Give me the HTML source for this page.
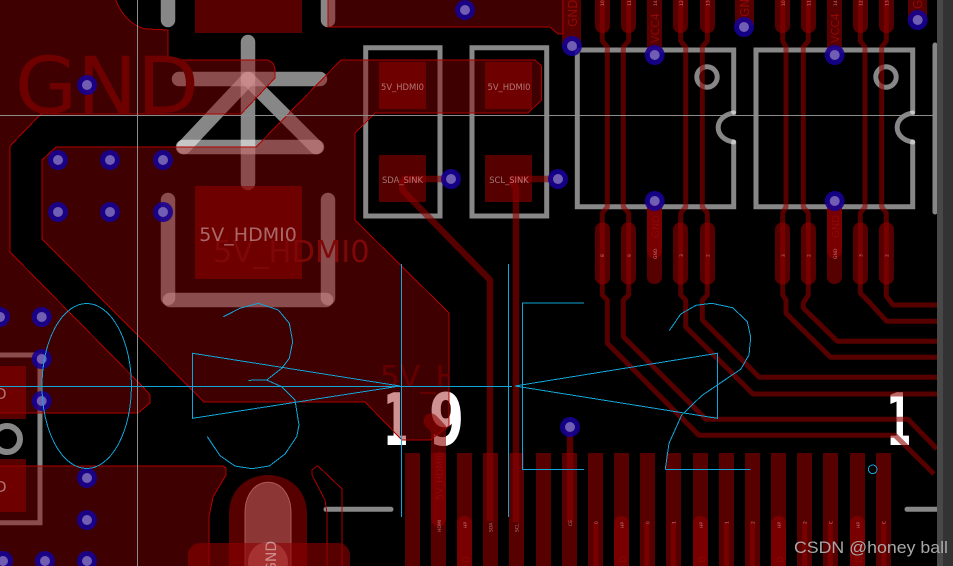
<!DOCTYPE html>
<html><head><meta charset="utf-8"><style>
html,body{margin:0;padding:0;background:#000;width:953px;height:566px;overflow:hidden}
svg{display:block;font-family:"DejaVu Sans","Liberation Sans",sans-serif}
.s{fill:none;stroke:rgba(255,255,255,.53);stroke-width:14.5;stroke-linecap:round}
.t{fill:none;stroke:rgba(255,255,255,.53);stroke-width:5;stroke-linecap:round;stroke-linejoin:miter}
.p{fill:rgba(144,0,0,.43);stroke:#b00000;stroke-width:1;shape-rendering:crispEdges}
.c{fill:rgba(144,0,0,.6)}
.w{fill:none;stroke:rgba(144,0,0,.6);stroke-width:5;stroke-linejoin:bevel}
.w2{fill:none;stroke:rgba(144,0,0,.6);stroke-width:6.5;stroke-linejoin:bevel}
.v circle:nth-child(odd){fill:rgba(22,0,150,.88)}
.v circle:nth-child(even){fill:#7a68b8;fill-opacity:.9}
.y{fill:none;stroke:#12a5d8;stroke-width:1;shape-rendering:crispEdges}
.l{fill:rgba(255,255,255,.45)}
.r{fill:#900808}
.m{fill:rgba(255,210,210,.55);font-size:4.5px}
</style></head><body>
<svg width="953" height="566" viewBox="0 0 953 566" xmlns="http://www.w3.org/2000/svg">
<defs><clipPath id="k"><rect x="370" y="350" width="79" height="60"/></clipPath></defs>
<rect width="953" height="566" fill="#000"/>

<!-- silkscreen layer -->
<g>
<text transform="translate(383.4 445) scale(.5 1)" font-family="DejaVu Sans" font-weight="700" font-size="72" fill="#fff">1</text>
<text transform="translate(429 445) scale(.7 1)" font-family="DejaVu Sans" font-weight="700" font-size="72" fill="#fff">9</text>
<text transform="translate(886.4 445) scale(.5 1)" font-family="DejaVu Sans" font-weight="700" font-size="72" fill="#fff">1</text>
<path class="s" d="M168 -5V20M328 -5V20"/>
<path class="s" d="M179 79H320"/>
<path class="s" d="M248 42V183"/>
<path class="s" d="M248 79L184 147"/>
<path class="s" d="M248 79L316 147"/>
<path class="s" d="M183 147H317"/>
<path class="s" d="M168 200V298"/>
<path class="s" d="M328 200V298"/>
<path class="s" d="M170 300H326"/>
<path class="t" d="M365.700 47.700H440V216H365.700Z"/>
<path class="t" d="M472 47.700H546.700V216H472Z"/>
<path class="t" d="M733.700 112V50H577.300V206.700H733.700V142"/>
<path class="t" d="M733.700 113C713 116 713 139 733.700 142"/>
<path class="t" d="M912.700 112V50H756V206.700H912.700V142"/>
<path class="t" d="M912.700 113C892 116 892 139 912.700 142"/>
<circle class="t" cx="707" cy="77" r="10.200"/>
<circle class="t" cx="886" cy="77" r="10.200"/>
<path class="t" d="M935 45V212"/>
<path class="t" d="M0 355H40V522.700H0"/>
<circle cx="7" cy="439" r="13" fill="none" stroke="rgba(255,255,255,.53)" stroke-width="6"/>
<path class="t" d="M326 509.300H391" stroke-width="6.500"/>
<path class="t" d="M907 509.300H937" stroke-width="6.500"/>
<path d="M245 566V513C245 472 291 472 291 513V566" fill="rgba(255,255,255,.53)" stroke="#ddd" stroke-width="1"/>
</g>

<!-- copper pours -->
<path class="p" d="M-2 -2H115C122 18 136 28 147 29L168 30V60H268Q275 63 275 70V78L241 114H41L10 146V252L143 387L150 395V403L138 413H-2Z"/>
<path class="p" d="M42 160L56 147H256L341 60H535L541.700 66V100L528 113H375L355 133V220L449 313V426L430 440H402L365 402H204L42 239Z"/>
<path class="p" d="M-2 466H223L226 468V475L213 497L209 517V568H-2Z"/>
<path class="p" d="M328 -2V27H550L558 34H563V-2Z"/>
<path d="M317 466L312 470V475L325 500L327 513V566M342 566V489L318 466H317" fill="none" stroke="#b00000" shape-rendering="crispEdges"/>

<!-- copper pads -->
<g>
<rect class="c" x="195" y="-2" width="107" height="35"/>
<rect class="c" x="195" y="186" width="107" height="93"/>
<rect class="c" x="379" y="62" width="47" height="47"/>
<rect class="c" x="485" y="62" width="47" height="47"/>
<rect class="c" x="379" y="155" width="47" height="47"/>
<rect class="c" x="485" y="155" width="47" height="47"/>
<rect class="c" x="0" y="366" width="26" height="53"/>
<rect class="c" x="0" y="459" width="26" height="53"/>
<rect class="c" x="562" y="-2" width="19" height="47"/>
<rect class="c" x="735" y="-2" width="19" height="28"/>
<rect class="c" x="908" y="-2" width="19" height="22"/>
<rect class="c" x="647" y="-10" width="15" height="62"/>
<rect class="c" x="827" y="-10" width="15" height="62"/>
<rect class="c" x="647" y="201" width="15" height="83" rx="7"/>
<rect class="c" x="647" y="201" width="15" height="57" rx="7"/>
<rect class="c" x="827" y="201" width="15" height="83" rx="7"/>
<rect class="c" x="827" y="201" width="15" height="57" rx="7"/>
<!-- upper ovals -->
<rect class="c" x="595" y="-10" width="15" height="43" rx="7"/>
<rect class="c" x="621" y="-10" width="15" height="43" rx="7"/>
<rect class="c" x="673" y="-10" width="15" height="43" rx="7"/>
<rect class="c" x="700" y="-10" width="15" height="43" rx="7"/>
<rect class="c" x="775" y="-10" width="15" height="43" rx="7"/>
<rect class="c" x="801" y="-10" width="15" height="43" rx="7"/>
<rect class="c" x="853" y="-10" width="15" height="43" rx="7"/>
<rect class="c" x="879" y="-10" width="15" height="43" rx="7"/>
<!-- lower ovals -->
<rect class="c" x="595" y="222.500" width="15" height="62" rx="7"/>
<rect class="c" x="621" y="222.500" width="15" height="62" rx="7"/>
<rect class="c" x="673" y="222.500" width="15" height="62" rx="7"/>
<rect class="c" x="700" y="222.500" width="15" height="62" rx="7"/>
<rect class="c" x="775" y="222.500" width="15" height="62" rx="7"/>
<rect class="c" x="801" y="222.500" width="15" height="62" rx="7"/>
<rect class="c" x="853" y="222.500" width="15" height="62" rx="7"/>
<rect class="c" x="879" y="222.500" width="15" height="62" rx="7"/>
<!-- connector fingers -->
<path class="c" d="M405 453h15v113h-15zM431 453h15v113h-15zM457 453h15v113h-15zM483 453h15v113h-15zM509 453h15v113h-15zM536 453h15v113h-15zM562 453h15v113h-15zM588 453h15v113h-15zM614 453h15v113h-15zM640 453h15v113h-15zM666 453h15v113h-15zM693 453h15v113h-15zM719 453h15v113h-15zM745 453h15v113h-15zM771 453h15v113h-15zM797 453h15v113h-15zM823 453h15v113h-15zM850 453h15v113h-15zM876 453h15v113h-15z"/>
<rect class="c" x="457" y="516" width="15" height="60" rx="7"/>
<rect class="c" x="614" y="516" width="15" height="60" rx="7"/>
<rect class="c" x="693" y="516" width="15" height="60" rx="7"/>
<rect class="c" x="771" y="516" width="15" height="60" rx="7"/>
<rect class="c" x="850" y="516" width="15" height="60" rx="7"/>
<path class="c" d="M593.300 522h5v44h-5zM644.300 522h5v44h-5zM670.800 522h5v44h-5zM723.800 522h5v44h-5zM749.800 522h5v44h-5zM802.200 522h5v44h-5zM827.800 522h5v44h-5zM881.200 522h5v44h-5z"/>
<!-- bottom GND pad -->
<path class="c" d="M229 566V514C229 462 307 462 307 514V566Z"/>
<rect class="c" x="188" y="543" width="162" height="40" rx="12"/>
<circle cx="268" cy="562" r="20" fill="rgba(255,150,150,.22)"/>
</g>

<!-- traces -->
<g>
<polyline class="w" points="602.300,0 602.300,41 607.300,47 607.300,207 602.300,213 602.300,295 607.300,300 607.300,343.300 699,435.300 895,435.300 934,474"/>
<polyline class="w" points="628.700,0 628.700,41 623.300,47 623.300,207 628.700,213 628.700,295 623.300,300 623.300,336.700 706,419.300 908,419.300 937,449"/>
<polyline class="w" points="680.700,0 680.700,41 685.700,47 685.700,207 680.700,213 680.700,295 685.700,300 685.700,327 753,394 937,394"/>
<polyline class="w" points="707.300,0 707.300,41 702.300,47 702.300,207 707.300,213 707.300,295 702.300,300 702.300,320 759.300,377.300 937,377.300"/>
<polyline class="w" points="782.700,0 782.700,41 786,47 786,207 782.700,213 782.700,295 786,300 786,313.300 830.700,357.300 937,357.300"/>
<polyline class="w" points="808.300,0 808.300,41 803.300,47 803.300,207 808.300,213 808.300,295 803.300,303 803.300,308 837.300,341.300 937,341.300"/>
<polyline class="w" points="860.300,0 860.300,41 865,47 865,207 860.300,213 860.300,293 870,303 886.700,321.300 937,321.300"/>
<polyline class="w" points="886.300,0 886.300,41 881.700,47 881.700,207 886.300,213 886.300,296 893,305 937,305"/>
<polyline class="w2" points="402.300,179 402.300,190 490,280 490,521"/>
<polyline class="w2" points="402,179 451,179"/>
<polyline class="w2" points="510,179 558,179"/>
<polyline class="w2" points="510,181 516,187 516,522"/>
<polyline class="w2" points="570,427 570,522"/>
<path d="M431 421L438.500 429V519" fill="none" stroke="rgba(144,0,0,.6)" stroke-width="15" stroke-linecap="round"/>
</g>

<!-- large red texts -->
<text x="15" y="113" font-size="78" fill="#6e0000" textLength="184" lengthAdjust="spacingAndGlyphs">GND</text>
<text x="213" y="262" font-size="30.500" fill="#7e0808">5V_HDMI0</text>
<text x="380" y="387" font-size="30.500" fill="#660000" clip-path="url(#k)">5V_H</text>

<!-- vias -->
<g class="v">
<circle cx="87" cy="85" r="10"/><circle cx="87" cy="85" r="5"/>
<circle cx="58" cy="160" r="10"/><circle cx="58" cy="160" r="5"/>
<circle cx="110" cy="160" r="10"/><circle cx="110" cy="160" r="5"/>
<circle cx="163" cy="160" r="10"/><circle cx="163" cy="160" r="5"/>
<circle cx="58" cy="212" r="10"/><circle cx="58" cy="212" r="5"/>
<circle cx="110" cy="212" r="10"/><circle cx="110" cy="212" r="5"/>
<circle cx="163" cy="212" r="10"/><circle cx="163" cy="212" r="5"/>
<circle cx="465" cy="10" r="10"/><circle cx="465" cy="10" r="5"/>
<circle cx="572" cy="46" r="10"/><circle cx="572" cy="46" r="5"/>
<circle cx="451" cy="179" r="10"/><circle cx="451" cy="179" r="5"/>
<circle cx="558" cy="179" r="10"/><circle cx="558" cy="179" r="5"/>
<circle cx="654.700" cy="55" r="10"/><circle cx="654.700" cy="55" r="5"/>
<circle cx="744" cy="27" r="10"/><circle cx="744" cy="27" r="5"/>
<circle cx="917.700" cy="20" r="10"/><circle cx="917.700" cy="20" r="5"/>
<circle cx="834.700" cy="55" r="10"/><circle cx="834.700" cy="55" r="5"/>
<circle cx="654.700" cy="201" r="10"/><circle cx="654.700" cy="201" r="5"/>
<circle cx="834.700" cy="201" r="10"/><circle cx="834.700" cy="201" r="5"/>
<circle cx="570" cy="427" r="10"/><circle cx="570" cy="427" r="5"/>
<circle cx="41.700" cy="317" r="10"/><circle cx="41.700" cy="317" r="5"/>
<circle cx="41.700" cy="359" r="10"/><circle cx="41.700" cy="359" r="5"/>
<circle cx="41.700" cy="401" r="10"/><circle cx="41.700" cy="401" r="5"/>
<circle cx="0" cy="317" r="10"/><circle cx="0" cy="317" r="5"/>
<circle cx="87" cy="478" r="10"/><circle cx="87" cy="478" r="5"/>
<circle cx="87" cy="520" r="10"/><circle cx="87" cy="520" r="5"/>
<circle cx="87" cy="561" r="10"/><circle cx="87" cy="561" r="5"/>
<circle cx="45" cy="561" r="10"/><circle cx="45" cy="561" r="5"/>
<circle cx="3" cy="561" r="10"/><circle cx="3" cy="561" r="5"/>
</g>

<!-- pad labels -->
<text class="l" x="248" y="241" font-size="19" text-anchor="middle" fill-opacity=".9">5V_HDMI0</text>
<text class="l" x="402.500" y="90" font-size="8.400" text-anchor="middle">5V_HDMI0</text>
<text class="l" x="509" y="90" font-size="8.400" text-anchor="middle">5V_HDMI0</text>
<text class="l" x="402.500" y="183" font-size="8.400" text-anchor="middle">SDA_SINK</text>
<text class="l" x="509" y="183" font-size="8.400" text-anchor="middle">SCL_SINK</text>
<text class="l" x="-5" y="399" font-size="15">D</text>
<text class="l" x="-5" y="492" font-size="15">D</text>

<!-- rotated net names -->
<text transform="translate(276 573) rotate(-90)" font-size="14" fill="rgba(255,255,255,.45)">GND</text>
<text class="r" transform="translate(577 27) rotate(-90)" font-size="12">GND</text>
<text class="r" transform="translate(659 43) rotate(-90)" font-size="11">VCC4</text>
<text class="r" transform="translate(839 43) rotate(-90)" font-size="11">VCC4</text>
<text class="r" transform="translate(659 238) rotate(-90)" font-size="10">GND</text>
<text class="r" transform="translate(839 238) rotate(-90)" font-size="10">GND</text>
<text class="r" transform="translate(749 17) rotate(-90)" font-size="12">GN</text>
<text class="r" transform="translate(922 9) rotate(-90)" font-size="12">G</text>
<text class="r" transform="translate(443 500) rotate(-90)" font-size="9.400">5V_HDMI0</text>
<text class="r" transform="translate(469 563) rotate(-90)" font-size="9">D</text>
<text class="r" transform="translate(626 563) rotate(-90)" font-size="9">D</text>
<text class="r" transform="translate(705 563) rotate(-90)" font-size="9">D</text>
<text class="r" transform="translate(783 563) rotate(-90)" font-size="9">D</text>
<text class="r" transform="translate(862 563) rotate(-90)" font-size="9">D</text>

<!-- tiny pin labels -->
<g class="m">
<text transform="translate(604 6) rotate(-90)">10</text><text transform="translate(631 6) rotate(-90)">11</text>
<text transform="translate(683 6) rotate(-90)">12</text><text transform="translate(709.500 6) rotate(-90)">13</text>
<text transform="translate(785 6) rotate(-90)">10</text><text transform="translate(810.500 6) rotate(-90)">11</text>
<text transform="translate(862.500 6) rotate(-90)">12</text><text transform="translate(888.500 6) rotate(-90)">13</text>
<text transform="translate(657 6) rotate(-90)">14</text><text transform="translate(837 6) rotate(-90)">14</text>
<text transform="translate(604 257) rotate(-90)">8</text><text transform="translate(631 257) rotate(-90)">9</text>
<text transform="translate(657 259) rotate(-90)">GND</text><text transform="translate(683 257) rotate(-90)">3</text>
<text transform="translate(709.500 257) rotate(-90)">2</text><text transform="translate(785 257) rotate(-90)">3</text>
<text transform="translate(810.500 257) rotate(-90)">2</text><text transform="translate(837 259) rotate(-90)">GND</text>
<text transform="translate(862.500 257) rotate(-90)">3</text><text transform="translate(888.500 257) rotate(-90)">2</text>
<text transform="translate(441 532) rotate(-90)">HDMI</text>
<text transform="translate(467 528) rotate(-90)">HP</text>
<text transform="translate(492.500 532) rotate(-90)">SDA</text>
<text transform="translate(518.500 532) rotate(-90)">SCL</text>
<text transform="translate(572 526) rotate(-90)">CE</text>
<text transform="translate(598 524) rotate(-90)">0</text>
<text transform="translate(624 528) rotate(-90)">HP</text>
<text transform="translate(649.500 524) rotate(-90)">0</text>
<text transform="translate(675.500 524) rotate(-90)">1</text>
<text transform="translate(703 528) rotate(-90)">HP</text>
<text transform="translate(728.500 524) rotate(-90)">1</text>
<text transform="translate(754.500 524) rotate(-90)">2</text>
<text transform="translate(781 528) rotate(-90)">HP</text>
<text transform="translate(806.500 524) rotate(-90)">2</text>
<text transform="translate(832.500 524) rotate(-90)">C</text>
<text transform="translate(860 528) rotate(-90)">HP</text>
<text transform="translate(885.500 524) rotate(-90)">C</text>
</g>

<!-- cursor crosshair -->
<path d="M0 115.500H934M137.500 0V566" stroke="#8c8c8c" stroke-width="1" fill="none"/>

<!-- ratsnest / drawing outlines -->
<g class="y">
<path d="M0 386.500H512"/>
<path d="M401.500 264V517M508.500 264V517"/>
<path d="M192.700 353.300V418.300L400 386L192.700 353.300Z"/>
<path d="M515 386L717.300 353.300V418.300Z"/>
<path d="M584 303H522.300V469.300H584"/>
<path d="M665.300 469.300H750.700"/>
<path d="M669.300 330.700L680.700 314L696 305.300L711.700 303.300L732.700 307.700L747.300 321.700L750.700 337.300L749 355L740.700 369.300L717.300 385L701.700 395.700L681.700 415L669 443.300L665.300 469.300"/>
<path d="M223.300 316.700L240 308.300L258.300 303.300L278.300 310L289.300 323.300L292.700 341.700L289.300 358.300L281.700 368.300L266.700 380L248.300 380.300M266.700 380L281.700 386.700L295 400L299 425L296.700 436.700L285 454L269.300 466L251.700 468.700L235 466L220 455.700L207.300 436.700"/>
<ellipse cx="86.700" cy="386" rx="44.700" ry="82.500"/>
<circle cx="872.700" cy="469.300" r="4.300"/>
</g>

<!-- scrollbar -->
<rect x="937" y="0" width="6" height="566" fill="#484848"/>
<rect x="943" y="0" width="10" height="566" fill="#333"/>

<text x="794" y="553" font-family="Liberation Sans" font-size="17" fill="#a8a8a8" textLength="154" lengthAdjust="spacingAndGlyphs">CSDN @honey ball</text>
</svg>
</body></html>
